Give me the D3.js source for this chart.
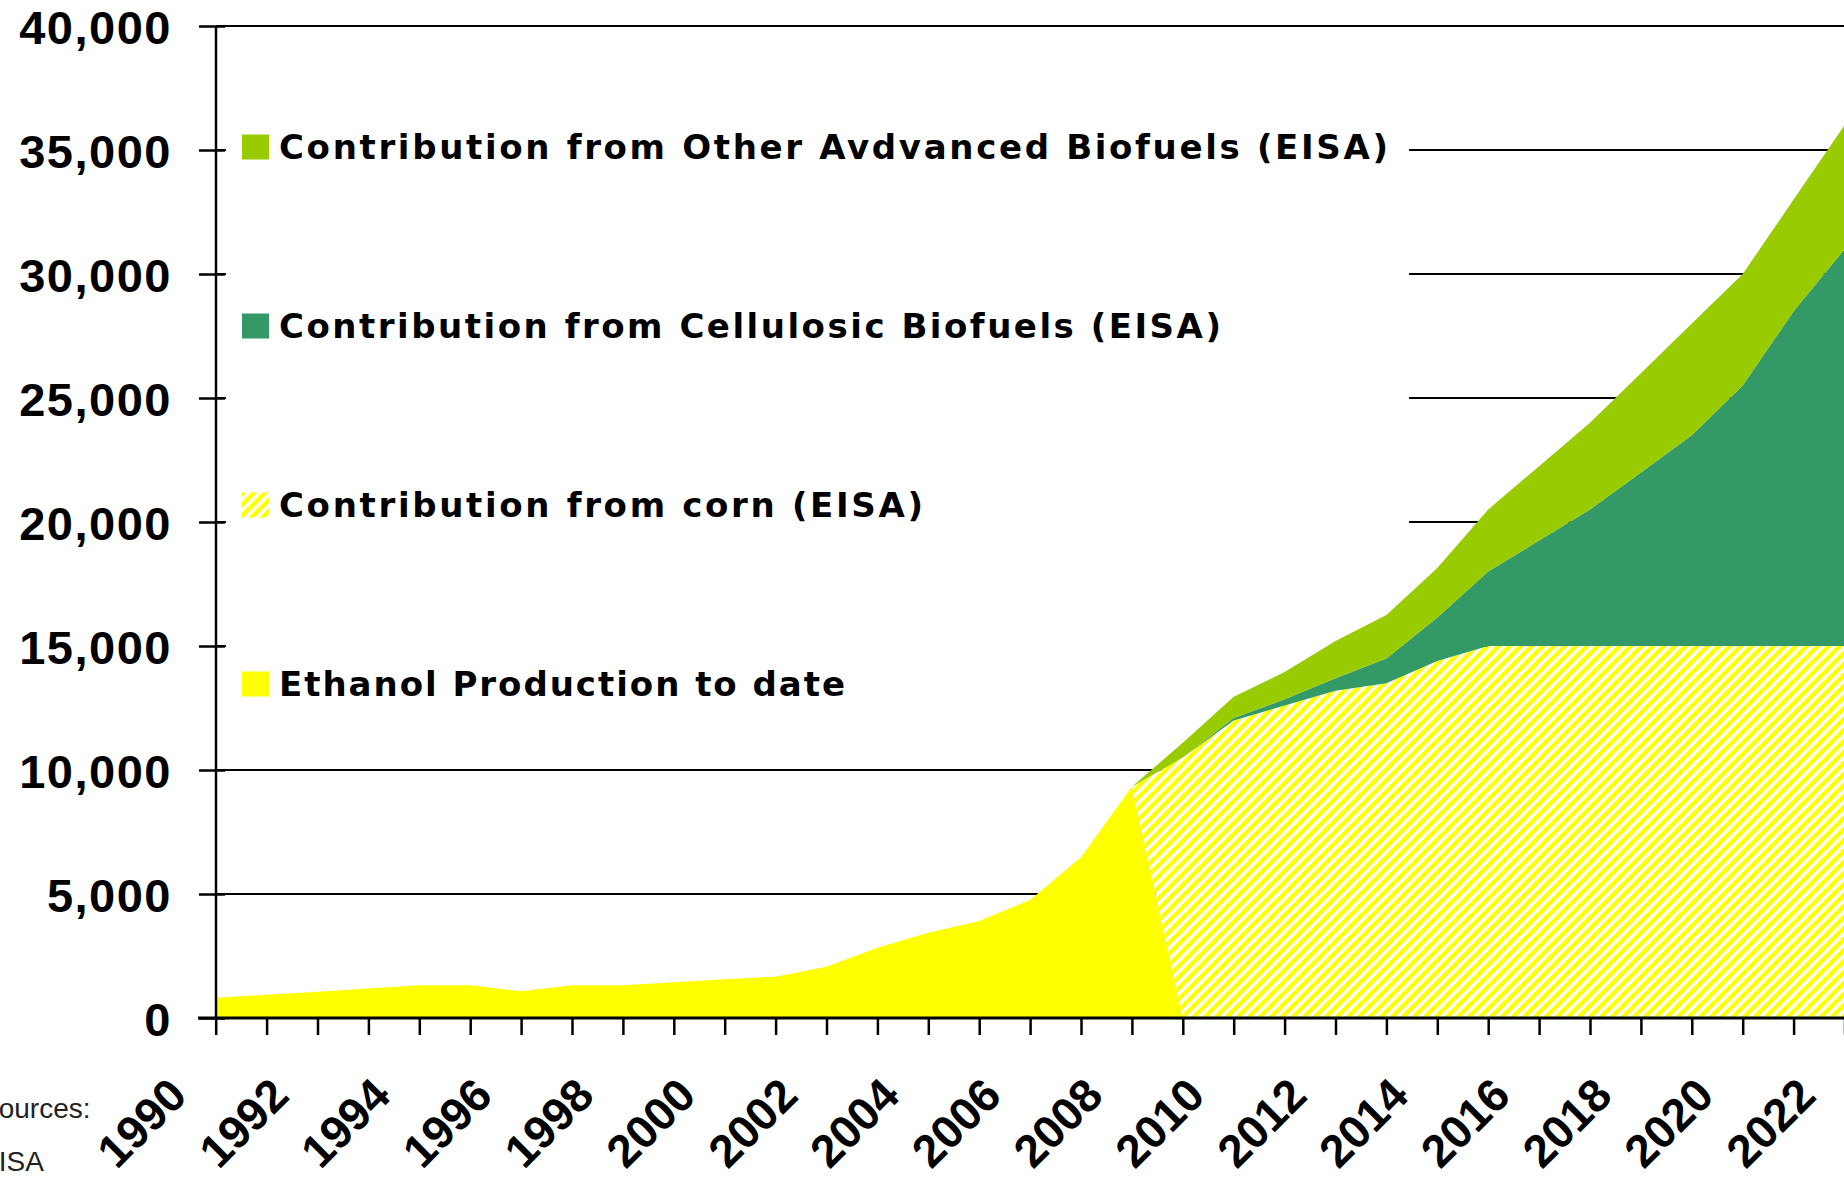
<!DOCTYPE html>
<html><head><meta charset="utf-8">
<script src="https://cdn.jsdelivr.net/npm/d3@7"></script>
<style>html,body{margin:0;padding:0;background:#fff;overflow:hidden}</style>
</head><body>
<svg id="chart" width="1844" height="1179"></svg>
<script>
// ---- data (million gallons) ----
const years = [1990,1991,1992,1993,1994,1995,1996,1997,1998,1999,2000,2001,2002,2003,2004,2005,2006,2007,2008,2009,2010,2011,2012,2013,2014,2015,2016,2017,2018,2019,2020,2021,2022];
const ethanol    = [820,940,1060,1190,1318,1318,1075,1318,1318,1440,1560,1667,2070,2836,3440,3911,4758,6480,9322,0,0,0,0,0,0,0,0,0,0,0,0,0,0];
const corn       = [0,0,0,0,0,0,0,0,0,0,0,0,0,0,0,0,0,0,0,10500,12000,12600,13200,13500,14400,15000,15000,15000,15000,15000,15000,15000,15000];
const cellulosic = [0,0,0,0,0,0,0,0,0,0,0,0,0,0,0,0,0,0,0,0,100,250,500,1000,1750,3000,4250,5500,7000,8500,10500,13500,16000];
const otherAdv   = [0,0,0,0,0,0,0,0,0,0,0,0,0,0,0,0,0,0,0,600,850,1100,1500,1750,2000,2500,3000,3500,4000,4500,4500,4500,5000];
const yTicks = [0,5000,10000,15000,20000,25000,30000,35000,40000];
const legendLabels = [
  "Contribution from Other Avdvanced Biofuels (EISA)",
  "Contribution from Cellulosic Biofuels (EISA)",
  "Contribution from corn (EISA)",
  "Ethanol Production to date"
];
const sourceLines = ["Sources:", "EISA"];

// ---- layout ----
const W = 1844, H = 1179;
const svg = d3.select('#chart');
const x = d3.scaleLinear().domain([1990, 2022]).range([215.7, 1844.5]);
const y = d3.scaleLinear().domain([0, 40000]).range([1018, 26]);
const boldFont = "'Liberation Sans', Arial, sans-serif";

const defs = svg.append('defs');
const P = 11;
const pat = defs.append('pattern').attr('id', 'hatch')
  .attr('patternUnits', 'userSpaceOnUse').attr('width', P).attr('height', P);
pat.append('rect').attr('width', P).attr('height', P).attr('fill', '#fff');
pat.append('path').attr('d', `M-3,3 L3,-3 M0,${P} L${P},0 M${P-3},${P+3} L${P+3},${P-3}`)
  .attr('stroke', '#FFFF00').attr('stroke-width', 4.4);

// gridlines
svg.append('g').selectAll('line').data(yTicks.filter(d => d > 0)).join('line')
  .attr('x1', 216).attr('x2', W).attr('y1', d => y(d)).attr('y2', d => y(d))
  .attr('stroke', '#000').attr('stroke-width', 2.2);

// legend background (covers gridlines)
svg.append('rect').attr('x', 226).attr('y', 50).attr('width', 1409 - 226).attr('height', 650).attr('fill', '#fff');

// stacked areas
const table = years.map((yr, i) => ({year: yr, ethanol: ethanol[i], corn: corn[i], cellulosic: cellulosic[i], other: otherAdv[i]}));
const keys = ['ethanol', 'corn', 'cellulosic', 'other'];
const series = d3.stack().keys(keys)(table);
const fills = {ethanol: '#FFFF00', corn: 'url(#hatch)', cellulosic: '#339966', other: '#99CC00'};
const area = d3.area().x(d => x(d.data.year)).y0(d => y(d[0])).y1(d => y(d[1]));
svg.append('g').selectAll('path').data(series).join('path')
  .attr('d', area).attr('fill', d => fills[d.key]);

// y axis
const yAxis = svg.append('g').attr('transform', 'translate(216,0)')
  .call(d3.axisLeft(y).tickValues(yTicks).tickSize(17).tickPadding(27).tickFormat(d3.format(',')));
yAxis.select('.domain').remove();
yAxis.selectAll('.tick line').attr('x1', 9).attr('stroke', '#000').attr('stroke-width', 2.5);
yAxis.selectAll('.tick text').attr('dy', '0.38em')
  .style('font-family', boldFont).style('font-weight', 'bold').style('font-size', '47px')
  .style('letter-spacing', '1.5px').attr('fill', '#000');
svg.append('line').attr('x1', 216).attr('x2', 216).attr('y1', y(40000)).attr('y2', y(0))
  .attr('stroke', '#000').attr('stroke-width', 2.5);

// x axis
const xAxis = svg.append('g').attr('transform', 'translate(0,1018)')
  .call(d3.axisBottom(x).tickValues(years).tickSize(17).tickFormat(d => d % 2 === 0 ? String(d) : ''));
xAxis.select('.domain').remove();
xAxis.selectAll('.tick line').attr('stroke', '#000').attr('stroke-width', 2.5);
xAxis.selectAll('.tick text')
  .attr('x', -27).attr('y', 80).attr('dy', 0).attr('text-anchor', 'end')
  .attr('transform', 'rotate(-45,-27,80)')
  .style('font-family', boldFont).style('font-weight', 'bold').style('font-size', '46px').attr('fill', '#000');
svg.append('line').attr('x1', 198).attr('x2', W).attr('y1', 1018).attr('y2', 1018)
  .attr('stroke', '#000').attr('stroke-width', 3);

// legend
const legFills = ['#99CC00', '#339966', 'url(#hatch)', '#FFFF00'];
const legWidths = [1109, 942, 644, 566];
const legCenters = [147, 326, 505, 684];
const leg = svg.append('g').selectAll('g').data(legendLabels).join('g')
  .attr('transform', (d, i) => `translate(0,${legCenters[i]})`);
leg.append('rect').attr('x', 242).attr('y', -12.5).attr('width', 27).attr('height', 25)
  .attr('fill', (d, i) => legFills[i]);
leg.append('text').attr('x', 279).attr('y', 12).text(d => d)
  .attr('textLength', (d, i) => legWidths[i]).attr('lengthAdjust', 'spacing')
  .style('font-family', "'DejaVu Sans', Verdana, sans-serif").style('font-weight', 'bold')
  .style('font-size', '34px').attr('fill', '#000');

// sources note (partly off-canvas as in original)
svg.append('g').selectAll('text').data(sourceLines).join('text')
  .attr('x', -20).attr('y', (d, i) => [1118, 1171][i]).text(d => d)
  .style('font-family', "'Liberation Sans', Arial, sans-serif").style('font-size', '28px').attr('fill', '#222');
</script>
</body></html>
